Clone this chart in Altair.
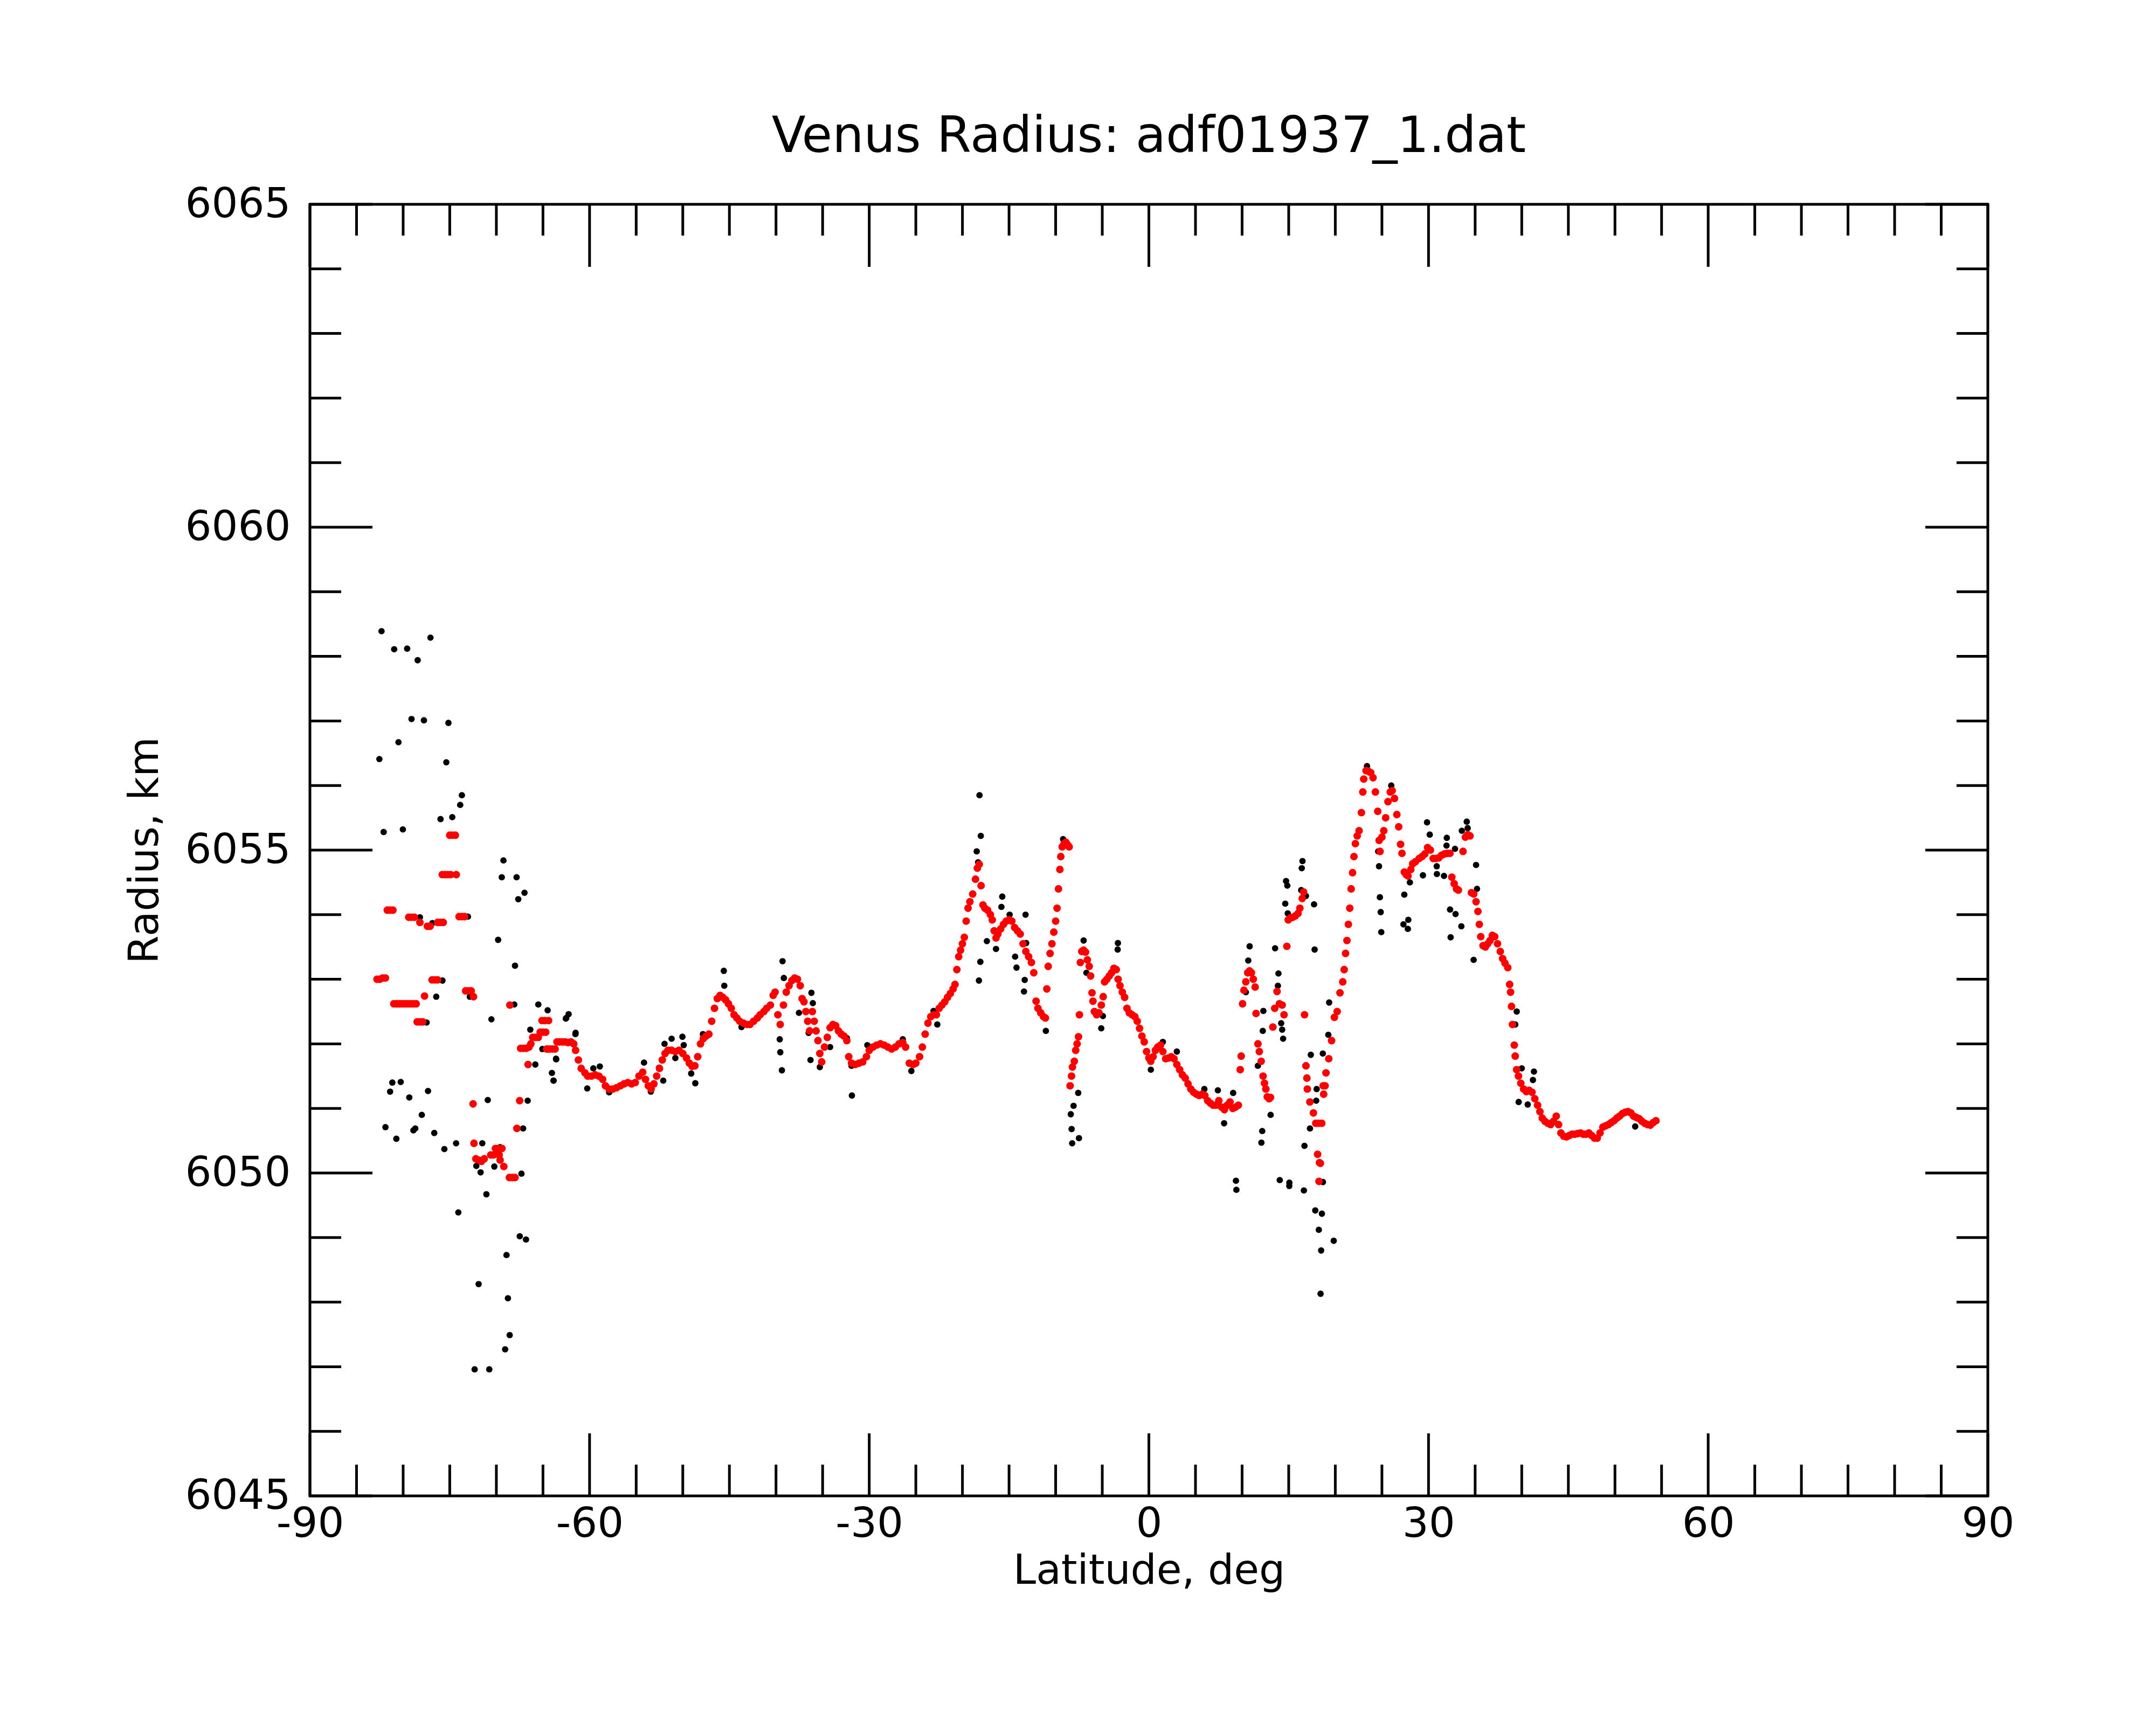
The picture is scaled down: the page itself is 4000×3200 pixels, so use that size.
import altair as alt
import pandas as pd

# ---------------- data ----------------
x_major = [-90, -60, -30, 0, 30, 60, 90]
x_minor = [-85, -80, -75, -70, -65, -55, -50, -45, -40, -35, -25, -20, -15, -10, -5,
           5, 10, 15, 20, 25, 35, 40, 45, 50, 55, 65, 70, 75, 80, 85]
y_major = [6045, 6050, 6055, 6060, 6065]
y_minor = [6046, 6047, 6048, 6049, 6051, 6052, 6053, 6054, 6056, 6057, 6058, 6059,
           6061, 6062, 6063, 6064]

# filtered radius (red), south polar region
red_south = [
    (-82.8, 6053.0), (-82.5, 6053.0), (-82.2, 6053.02), (-81.9, 6053.02),
    (-81.7, 6054.07), (-81.4, 6054.07), (-81.1, 6054.07),
    (-81.0, 6052.62), (-80.7, 6052.62), (-80.4, 6052.62), (-80.1, 6052.62), (-79.8, 6052.62),
    (-79.5, 6052.62), (-79.2, 6052.62), (-78.9, 6052.62), (-78.6, 6052.62),
    (-79.4, 6053.96), (-79.1, 6053.96), (-78.8, 6053.96),
    (-78.5, 6052.34), (-78.2, 6052.34), (-77.9, 6052.34), (-78.2, 6053.88),
    (-77.4, 6053.82), (-77.1, 6053.82), (-76.3, 6053.88), (-76.0, 6053.88), (-75.7, 6053.88),
    (-77.7, 6052.74), (-76.9, 6052.99), (-76.6, 6052.99), (-76.3, 6052.99),
    (-75.8, 6054.62), (-75.5, 6054.62), (-75.2, 6054.62), (-74.9, 6054.62),
    (-75.0, 6055.23), (-74.7, 6055.23), (-74.4, 6055.23), (-74.3, 6054.62),
    (-74.0, 6053.97), (-73.7, 6053.97), (-73.4, 6053.97),
    (-73.3, 6052.82), (-73.0, 6052.82), (-72.7, 6052.82), (-72.45, 6052.73),
    (-72.5, 6051.07), (-72.4, 6050.46),
    (-72.2, 6050.22), (-71.9, 6050.2), (-71.6, 6050.18), (-71.3, 6050.22),
    (-70.6, 6050.28), (-70.3, 6050.28), (-70.0, 6050.3), (-69.7, 6050.28),
    (-70.1, 6050.38), (-69.8, 6050.38), (-69.4, 6050.38), (-69.6, 6050.2), (-69.2, 6050.1),
    (-68.6, 6049.93), (-68.3, 6049.93), (-68.0, 6049.93), (-68.55, 6052.6),
    (-67.8, 6050.69), (-67.5, 6051.12), (-66.6, 6051.68),
    (-67.4, 6051.93), (-67.1, 6051.93), (-66.8, 6051.93), (-66.5, 6051.95),
    (-66.3, 6052.0), (-66.1, 6052.1), (-65.8, 6052.1), (-65.5, 6052.1),
    (-65.3, 6052.18), (-65.0, 6052.18), (-64.7, 6052.18),
    (-65.1, 6052.36), (-64.8, 6052.36), (-64.4, 6052.36),
    (-64.6, 6051.92), (-64.3, 6051.92), (-64.0, 6051.92), (-63.7, 6051.92),
    (-63.5, 6052.03), (-63.2, 6052.03), (-62.9, 6052.03), (-62.6, 6052.03),
    (-62.3, 6052.02), (-62.0, 6052.03), (-61.7, 6052.0),
]

red_mid_south = [
    (-61.5, 6051.9), (-61.2, 6051.75), (-60.9, 6051.62), (-60.5, 6051.55), (-60.2, 6051.5),
    (-59.8, 6051.5), (-59.4, 6051.52), (-59.0, 6051.5), (-58.6, 6051.45), (-58.3, 6051.35),
    (-57.9, 6051.3), (-57.5, 6051.3), (-57.1, 6051.32), (-56.7, 6051.35), (-56.3, 6051.38),
    (-55.9, 6051.4), (-55.5, 6051.38), (-55.1, 6051.4), (-54.7, 6051.5), (-54.3, 6051.56),
    (-54.0, 6051.45), (-53.7, 6051.35), (-53.4, 6051.3), (-53.1, 6051.38), (-52.8, 6051.5),
    (-52.5, 6051.62), (-52.2, 6051.75), (-51.9, 6051.85), (-51.6, 6051.9), (-51.2, 6051.9),
    (-50.8, 6051.88), (-50.4, 6051.9), (-50.0, 6051.85), (-49.6, 6051.78), (-49.3, 6051.7),
    (-49.0, 6051.65), (-48.7, 6051.66), (-48.4, 6051.8), (-48.1, 6052.0), (-47.8, 6052.08),
    (-47.5, 6052.12), (-47.2, 6052.15), (-46.9, 6052.35), (-46.6, 6052.55), (-46.3, 6052.7),
    (-46.0, 6052.75), (-45.7, 6052.72), (-45.4, 6052.68), (-45.1, 6052.62), (-44.8, 6052.55),
    (-44.5, 6052.45), (-44.2, 6052.4), (-43.9, 6052.35), (-43.5, 6052.32), (-43.1, 6052.3),
    (-42.8, 6052.3), (-42.4, 6052.35), (-42.0, 6052.4), (-41.7, 6052.45), (-41.3, 6052.5),
    (-41.0, 6052.55), (-40.6, 6052.6), (-40.3, 6052.75), (-40.1, 6052.8), (-39.8, 6052.45),
    (-39.55, 6052.3), (-39.2, 6052.6), (-38.9, 6052.8), (-38.6, 6052.9), (-38.3, 6052.98),
    (-38.0, 6053.02), (-37.7, 6053.0), (-37.4, 6052.9), (-37.2, 6052.7), (-37.0, 6052.65),
    (-36.8, 6052.5), (-36.6, 6052.35), (-36.4, 6052.2), (-36.1, 6052.5), (-35.9, 6052.35),
    (-35.7, 6052.2), (-35.5, 6052.05), (-35.3, 6051.85), (-35.1, 6051.72), (-34.8, 6051.95),
    (-34.5, 6052.1), (-34.2, 6052.25), (-33.9, 6052.3), (-33.6, 6052.28), (-33.3, 6052.2),
    (-33.0, 6052.15), (-32.7, 6052.12), (-32.4, 6052.05), (-32.2, 6051.8), (-31.9, 6051.7),
    (-31.5, 6051.68), (-31.1, 6051.7), (-30.7, 6051.72), (-30.3, 6051.8), (-30.0, 6051.9),
    (-29.6, 6051.95), (-29.2, 6051.98), (-28.8, 6052.0), (-28.4, 6051.98), (-28.0, 6051.95),
    (-27.6, 6051.92), (-27.2, 6051.95), (-26.8, 6052.0), (-26.4, 6052.02), (-26.1, 6051.95),
    (-25.7, 6051.7), (-25.3, 6051.68), (-25.0, 6051.7), (-24.6, 6051.8), (-24.3, 6051.95),
    (-24.0, 6052.15), (-23.7, 6052.32), (-23.4, 6052.42), (-23.1, 6052.45), (-22.8, 6052.45),
    (-22.5, 6052.55), (-22.2, 6052.6), (-21.9, 6052.65), (-21.6, 6052.72), (-21.3, 6052.78),
    (-21.0, 6052.85), (-20.8, 6052.92), (-20.6, 6053.15), (-20.4, 6053.35), (-20.2, 6053.45),
    (-20.0, 6053.55), (-19.8, 6053.65), (-19.6, 6053.9), (-19.4, 6054.1), (-19.2, 6054.2),
]

red_equator = [
    (-18.9, 6054.32), (-18.6, 6054.55), (-18.4, 6054.72), (-18.2, 6054.78), (-18.0, 6054.45),
    (-17.8, 6054.15), (-17.6, 6054.1), (-17.3, 6054.07), (-17.0, 6054.0), (-16.8, 6053.92),
    (-16.6, 6053.75), (-16.4, 6053.64), (-16.2, 6053.7), (-15.9, 6053.78), (-15.6, 6053.85),
    (-15.3, 6053.9), (-15.0, 6053.92), (-14.7, 6053.9), (-14.4, 6053.8), (-14.1, 6053.75),
    (-13.8, 6053.7), (-13.5, 6053.55), (-13.2, 6053.43), (-12.9, 6053.35), (-12.6, 6053.26),
    (-12.35, 6053.1), (-12.1, 6052.66), (-11.9, 6052.55), (-11.6, 6052.48), (-11.3, 6052.42),
    (-11.1, 6052.4), (-10.95, 6052.85), (-10.8, 6053.2), (-10.6, 6053.4), (-10.4, 6053.55),
    (-10.2, 6053.73), (-10.0, 6053.9), (-9.85, 6054.1), (-9.7, 6054.4), (-9.55, 6054.7),
    (-9.45, 6054.9), (-9.3, 6055.05), (-9.1, 6055.1), (-8.9, 6055.12), (-8.7, 6055.08),
    (-8.55, 6055.05), (-8.45, 6051.35), (-8.3, 6051.5), (-8.2, 6051.64), (-8.0, 6051.73),
    (-7.85, 6051.9), (-7.7, 6052.0), (-7.55, 6052.11), (-7.45, 6052.45), (-7.35, 6053.26),
    (-7.2, 6053.43), (-7.0, 6053.45), (-6.8, 6053.42), (-6.6, 6053.3), (-6.4, 6053.2),
    (-6.25, 6053.05), (-6.1, 6052.79), (-6.0, 6052.66), (-5.85, 6052.5), (-5.6, 6052.45),
    (-5.35, 6052.48), (-5.1, 6052.6), (-4.9, 6052.73), (-4.75, 6052.96), (-4.5, 6053.0),
    (-4.25, 6053.05), (-4.0, 6053.1), (-3.75, 6053.17), (-3.5, 6053.15), (-3.3, 6053.0),
    (-3.1, 6052.9), (-2.85, 6052.8), (-2.6, 6052.72), (-2.35, 6052.55), (-2.1, 6052.48),
    (-1.8, 6052.45), (-1.5, 6052.42), (-1.25, 6052.35), (-1.0, 6052.24), (-0.75, 6052.12),
    (-0.5, 6052.03), (-0.25, 6051.88), (0.0, 6051.78), (0.2, 6051.73), (0.45, 6051.8),
    (0.7, 6051.9), (0.95, 6051.95), (1.25, 6051.98), (1.5, 6051.88), (1.8, 6051.77),
    (2.1, 6051.78), (2.4, 6051.8), (2.7, 6051.77), (3.0, 6051.68), (3.3, 6051.6),
    (3.6, 6051.52), (3.9, 6051.47), (4.2, 6051.38), (4.5, 6051.3), (4.8, 6051.25),
    (5.1, 6051.22), (5.4, 6051.2), (5.7, 6051.22), (6.0, 6051.2), (6.3, 6051.12),
    (6.6, 6051.08), (6.9, 6051.05), (7.2, 6051.05), (7.5, 6051.12), (7.8, 6051.02),
    (8.1, 6050.98), (8.4, 6051.05), (8.7, 6051.1), (9.0, 6051.0), (9.3, 6051.02),
    (9.6, 6051.05), (9.8, 6051.6), (9.9, 6051.81), (10.05, 6052.62), (10.2, 6052.83),
    (10.4, 6052.96), (10.6, 6053.1), (10.8, 6053.13), (11.0, 6053.1), (11.2, 6053.0),
    (11.4, 6052.88), (11.5, 6052.47), (11.7, 6052.0), (11.85, 6051.88), (12.05, 6051.73),
    (12.25, 6051.5), (12.4, 6051.39), (12.55, 6051.3), (12.7, 6051.18), (12.9, 6051.15),
    (13.05, 6051.17), (13.3, 6052.26), (13.5, 6052.55), (13.75, 6052.81), (14.0, 6052.62),
    (14.3, 6052.6), (14.5, 6052.45), (14.8, 6053.51), (14.95, 6053.92), (15.2, 6053.95),
    (15.45, 6053.96), (15.7, 6053.98), (16.0, 6054.02), (16.2, 6054.1), (16.45, 6054.25),
    (16.6, 6054.35), (16.7, 6052.45), (16.85, 6051.66), (16.95, 6051.47), (17.0, 6051.3),
    (17.27, 6051.1), (17.65, 6050.93), (17.9, 6050.77), (18.2, 6050.77), (18.55, 6050.77),
    (18.1, 6050.29), (18.3, 6050.16), (18.4, 6050.15), (18.25, 6049.87), (18.7, 6051.35),
]

red_north = [
    (18.75, 6051.22), (18.9, 6051.35), (19.0, 6051.55), (19.3, 6051.77), (19.6, 6052.05),
    (19.9, 6052.41), (20.2, 6052.5), (20.5, 6052.79), (20.8, 6052.96), (20.95, 6053.15),
    (21.1, 6053.4), (21.25, 6053.6), (21.4, 6053.85), (21.55, 6054.1), (21.7, 6054.4),
    (21.85, 6054.65), (22.0, 6054.9), (22.15, 6055.1), (22.35, 6055.22), (22.55, 6055.3),
    (22.8, 6055.58), (22.95, 6055.9), (23.05, 6056.1), (23.3, 6056.23), (23.55, 6056.22),
    (23.8, 6056.2), (24.05, 6056.12), (24.3, 6055.9), (24.55, 6055.6), (24.7, 6055.15),
    (24.8, 6054.98), (25.0, 6055.2), (25.2, 6055.3), (25.4, 6055.5), (25.65, 6055.75),
    (25.9, 6055.9), (26.1, 6055.92), (26.35, 6055.8), (26.6, 6055.55), (26.8, 6055.36),
    (27.0, 6055.09), (27.15, 6054.95), (27.4, 6054.66), (27.6, 6054.62), (27.8, 6054.6),
    (28.1, 6054.7), (28.3, 6054.79), (28.6, 6054.82), (29.0, 6054.87), (29.3, 6054.9),
    (29.6, 6054.94), (29.9, 6055.04), (30.2, 6055.0), (30.5, 6054.87), (30.8, 6054.87),
    (31.1, 6054.88), (31.4, 6054.92), (31.7, 6054.94), (32.0, 6054.95), (32.3, 6054.95),
    (32.5, 6054.58), (32.75, 6054.48), (33.0, 6054.4), (33.2, 6054.38), (33.7, 6054.98),
    (33.95, 6055.2), (34.2, 6055.24), (34.45, 6055.22), (34.6, 6054.34), (34.85, 6054.32),
    (35.1, 6054.2), (35.3, 6054.05), (35.45, 6053.85), (35.6, 6053.66), (35.85, 6053.52),
    (36.1, 6053.5), (36.35, 6053.55), (36.6, 6053.6), (36.85, 6053.68), (37.1, 6053.66),
    (37.4, 6053.55), (37.7, 6053.43), (37.95, 6053.32), (38.2, 6053.25), (38.5, 6053.18),
    (38.7, 6052.92), (38.8, 6052.8), (38.9, 6052.58), (39.0, 6052.3), (39.2, 6051.98),
    (39.3, 6051.81), (39.45, 6051.6), (39.65, 6051.5), (39.9, 6051.39), (40.2, 6051.3),
    (40.5, 6051.26), (40.8, 6051.28), (41.1, 6051.25), (41.4, 6051.15), (41.7, 6051.05),
    (41.95, 6050.95), (42.2, 6050.85), (42.5, 6050.8), (42.8, 6050.77), (43.1, 6050.75),
    (43.4, 6050.8), (43.7, 6050.88), (43.95, 6050.75), (44.2, 6050.62), (44.5, 6050.57),
    (44.8, 6050.56), (45.1, 6050.58), (45.4, 6050.6), (45.7, 6050.6), (46.0, 6050.61),
    (46.3, 6050.62), (46.6, 6050.6), (46.9, 6050.6), (47.2, 6050.62), (47.5, 6050.58),
    (47.8, 6050.54), (48.1, 6050.54), (48.4, 6050.62), (48.7, 6050.71), (49.0, 6050.73),
    (49.3, 6050.75), (49.6, 6050.78), (49.9, 6050.81), (50.2, 6050.85), (50.5, 6050.88),
    (50.8, 6050.92), (51.1, 6050.94), (51.4, 6050.95), (51.7, 6050.93), (52.0, 6050.88),
    (52.3, 6050.86), (52.6, 6050.84), (52.9, 6050.8), (53.2, 6050.77), (53.5, 6050.75),
    (53.8, 6050.74), (54.1, 6050.78), (54.4, 6050.81),
]

# raw radius samples (black) that stand apart from the filtered curve
black_south = [
    (-82.32, 6058.39), (-80.96, 6058.11), (-79.57, 6058.12), (-78.44, 6057.94), (-77.07, 6058.29),
    (-79.1, 6057.03), (-77.77, 6057.01), (-75.14, 6056.97), (-80.5, 6056.67), (-82.55, 6056.41),
    (-75.37, 6056.36), (-73.7, 6055.85), (-73.88, 6055.7), (-75.99, 6055.48), (-74.73, 6055.51),
    (-82.09, 6055.28), (-80.03, 6055.32), (-69.24, 6054.84), (-69.42, 6054.58), (-67.83, 6054.58),
    (-67.65, 6054.24), (-66.98, 6054.34), (-78.2, 6053.96), (-76.86, 6053.87), (-73.05, 6053.97),
    (-69.81, 6053.61), (-68.0, 6053.21), (-75.78, 6052.98), (-76.45, 6052.73), (-72.85, 6052.73),
    (-68.08, 6052.61), (-77.48, 6052.33), (-70.53, 6052.38), (-65.5, 6052.61), (-64.5, 6052.52),
    (-66.36, 6052.22), (-65.07, 6051.92), (-65.82, 6051.68), (-63.58, 6051.76), (-64.04, 6051.55),
    (-63.86, 6051.43), (-62.5, 6052.4), (-62.25, 6052.46), (-61.52, 6052.15),
    (-81.16, 6051.4), (-80.26, 6051.41), (-81.4, 6051.26), (-79.34, 6051.17), (-77.33, 6051.27),
    (-78.0, 6050.9), (-81.9, 6050.71), (-78.9, 6050.66), (-78.7, 6050.69), (-80.73, 6050.53),
    (-76.66, 6050.62), (-75.58, 6050.37), (-74.32, 6050.46), (-70.92, 6051.13), (-66.64, 6051.12),
    (-67.13, 6050.69), (-67.31, 6049.99), (-71.51, 6050.46), (-71.69, 6050.01), (-72.15, 6050.11),
    (-70.22, 6050.1), (-69.6, 6050.4), (-71.07, 6049.67), (-74.08, 6049.39), (-67.49, 6049.02),
    (-66.82, 6048.97), (-68.91, 6048.73), (-71.9, 6048.28), (-68.76, 6048.06), (-68.57, 6047.49),
    (-69.06, 6047.27), (-72.33, 6046.96), (-70.76, 6046.96),
]

black_mid = [
    (-63.6, 6051.77), (-63.87, 6051.43), (-62.55, 6052.39), (-61.5, 6052.17), (-60.25, 6051.31),
    (-59.6, 6051.62), (-58.9, 6051.65), (-57.9, 6051.25), (-54.16, 6051.71), (-53.43, 6051.26),
    (-52.55, 6051.63), (-52.1, 6051.43), (-51.96, 6052.0), (-51.2, 6052.08), (-50.04, 6052.11),
    (-49.9, 6051.98), (-50.8, 6051.78), (-48.66, 6051.39), (-49.1, 6051.54), (-47.84, 6052.15),
    (-45.6, 6053.13), (-45.55, 6052.9), (-43.7, 6052.26), (-39.3, 6053.28), (-39.16, 6053.02),
    (-39.6, 6052.07), (-39.54, 6051.87), (-39.37, 6051.59), (-37.54, 6052.48), (-36.2, 6052.79),
    (-36.05, 6052.63), (-36.5, 6052.17), (-36.3, 6051.75), (-35.3, 6051.64), (-34.2, 6051.95),
    (-32.4, 6052.09), (-31.86, 6051.2), (-31.9, 6051.66), (-30.2, 6051.98), (-26.4, 6052.07),
    (-25.48, 6051.58), (-23.1, 6052.51), (-22.7, 6052.3),
    (-18.17, 6055.85), (-18.03, 6055.22), (-18.47, 6054.98), (-18.32, 6054.81), (-17.38, 6053.59),
    (-18.08, 6053.27), (-18.23, 6052.98), (-15.73, 6054.28), (-15.82, 6054.12), (-16.4, 6053.47),
    (-14.94, 6054.0), (-13.23, 6054.0), (-13.17, 6053.56), (-14.35, 6053.35), (-14.2, 6053.18),
    (-13.32, 6052.99), (-13.4, 6052.81), (-11.05, 6052.2), (-9.2, 6055.17), (-7.58, 6051.24),
    (-8.08, 6051.04), (-8.38, 6050.91), (-8.29, 6050.68), (-8.23, 6050.46), (-7.5, 6050.54),
    (-7.0, 6053.6), (-3.32, 6053.56), (-3.35, 6053.46), (-5.11, 6052.24), (-4.93, 6052.43),
    (-6.7, 6053.1), (0.21, 6051.6), (1.5, 6052.03), (3.0, 6051.88), (5.95, 6051.3),
    (7.4, 6051.28), (8.07, 6050.77), (9.04, 6051.24),
]

black_north = [
    (9.34, 6049.88), (9.39, 6049.74), (10.81, 6053.51), (10.66, 6053.29), (10.4, 6052.8),
    (12.28, 6052.51), (12.22, 6052.2), (11.69, 6051.66), (12.16, 6050.65), (12.07, 6050.47),
    (13.06, 6050.9), (13.54, 6053.48), (13.9, 6053.09), (13.84, 6052.9), (14.19, 6052.32),
    (14.3, 6052.22), (14.4, 6052.08), (14.04, 6049.89), (15.07, 6049.85), (15.06, 6049.8),
    (14.72, 6054.52), (14.85, 6054.45), (14.63, 6054.17), (14.9, 6054.02), (16.48, 6054.83),
    (16.4, 6054.72), (16.34, 6054.38), (16.85, 6054.29), (17.72, 6054.16), (17.78, 6053.46),
    (17.37, 6051.83), (17.95, 6051.12), (17.28, 6050.69), (16.69, 6050.42), (16.63, 6049.73),
    (17.85, 6049.42), (18.56, 6049.37), (18.23, 6049.12), (19.83, 6048.95), (18.48, 6048.8),
    (18.42, 6048.13), (18.67, 6049.86), (18.0, 6051.3), (19.34, 6052.64), (19.25, 6052.14),
    (18.66, 6051.85), (24.69, 6054.75), (24.78, 6054.27), (24.87, 6054.04), (24.93, 6053.73),
    (24.6, 6054.98), (27.4, 6054.31), (27.31, 6053.85), (27.78, 6053.78), (27.83, 6053.92),
    (29.84, 6055.43), (30.13, 6055.24), (29.4, 6054.61), (30.9, 6054.63), (30.88, 6054.75),
    (31.66, 6054.6), (31.96, 6055.19), (31.93, 6055.07), (32.84, 6055.02), (32.31, 6054.08),
    (32.9, 6054.01), (33.52, 6053.82), (32.37, 6053.65), (34.1, 6055.44), (34.2, 6055.34),
    (33.57, 6055.3), (35.1, 6054.77), (34.84, 6053.3), (35.2, 6054.4), (39.46, 6052.5),
    (39.3, 6052.3), (41.31, 6051.57), (41.2, 6051.44), (40.0, 6051.62), (39.67, 6051.1),
    (40.64, 6051.06), (52.17, 6050.72), (28.0, 6054.5), (26.0, 6056.0), (23.4, 6056.3),
]

# ---------------- chart ----------------
W, H = 3113, 2396
FONT = "DejaVu Sans"
MINOR_LEN, MAJOR_LEN = 58, 116

red_df = pd.DataFrame(red_south + red_mid_south + red_equator + red_north, columns=["lat", "rad"])
black_df = pd.DataFrame(black_south + black_mid + black_north, columns=["lat", "rad"])

xs = alt.Scale(domain=[-90, 90], nice=False, zero=False)
ys = alt.Scale(domain=[6045, 6065], nice=False, zero=False)

x_axis = alt.Axis(values=x_major, labelExpr="'' + datum.value", labelPadding=14,
                  title="Latitude, deg", titlePadding=12, titleFontSize=76,
                  labelFlush=False, labelOverlap=False,
                  labelLimit=1000, ticks=False, domain=False, grid=False)
y_axis = alt.Axis(values=y_major, labelExpr="'' + datum.value", labelPadding=36,
                  title="Radius, km", titleFontSize=76, titleAngle=270,
                  titleX=-283, titleY=H / 2, titleBaseline="alphabetic", titleAlign="center",
                  labelFlush=False, labelOverlap=False,
                  labelLimit=1000, ticks=False, domain=False, grid=False)

X = lambda f: alt.X(f, type="quantitative", scale=xs, axis=x_axis)
Y = lambda f: alt.Y(f, type="quantitative", scale=ys, axis=y_axis)

# raw samples underneath the filtered curve, then isolated raw samples, then the filtered curve
black_under = alt.Chart(red_df).mark_circle(size=150, color="black", opacity=1, dy=3).encode(
    x=X("lat"), y=Y("rad"))
black = alt.Chart(black_df).mark_circle(size=140, color="black", opacity=1).encode(
    x=X("lat"), y=Y("rad"))
red = alt.Chart(red_df).mark_circle(size=200, color="#ff0000", opacity=1).encode(
    x=X("lat"), y=Y("rad"))


def xticks(vals, length, top):
    df = pd.DataFrame({"t": vals})
    yv, y2v = (0, length) if top else (H, H - length)
    return alt.Chart(df).mark_rule(color="black", strokeWidth=5).encode(
        x=X("t"), y=alt.value(yv), y2=alt.value(y2v))


def yticks(vals, length, right):
    df = pd.DataFrame({"t": vals})
    xv, x2v = (W, W - length) if right else (0, length)
    return alt.Chart(df).mark_rule(color="black", strokeWidth=5).encode(
        y=Y("t"), x=alt.value(xv), x2=alt.value(x2v))


ticks = [
    xticks(x_minor, MINOR_LEN, False), xticks(x_major, MAJOR_LEN, False),
    xticks(x_minor, MINOR_LEN, True), xticks(x_major, MAJOR_LEN, True),
    yticks(y_minor, MINOR_LEN, False), yticks(y_major, MAJOR_LEN, False),
    yticks(y_minor, MINOR_LEN, True), yticks(y_major, MAJOR_LEN, True),
]

chart = alt.layer(black_under, black, red, *ticks).properties(
    width=W, height=H,
    autosize=alt.AutoSizeParams(type="none"),
    padding={"left": 567, "top": 371, "right": 290, "bottom": 400},
    title=alt.TitleParams("Venus Radius: adf01937_1.dat", fontSize=92, font=FONT,
                          fontWeight="normal", anchor="middle", offset=76, dy=110,
                          baseline="alphabetic", color="black"),
    background="white",
).configure_view(
    stroke="black", strokeWidth=5
).configure_axis(
    labelFont=FONT, labelFontSize=77, labelColor="black",
    titleFont=FONT, titleFontWeight="normal", titleColor="black",
)

chart.save("out.html", embed_options={"renderer": "svg", "actions": False})
